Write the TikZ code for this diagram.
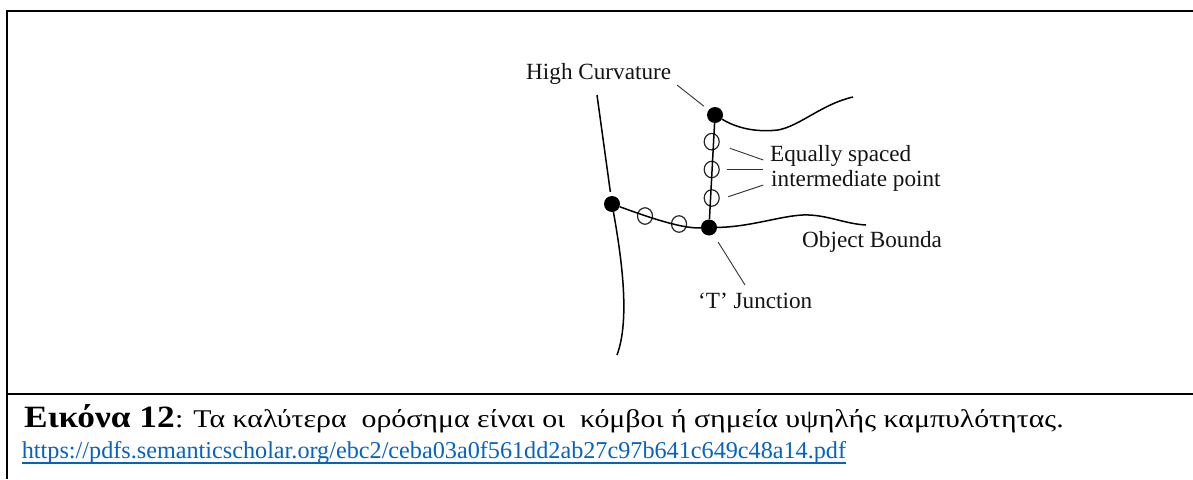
\documentclass[tikz,border=0pt]{standalone}
\usepackage{fontspec}
\setmainfont{Liberation Serif}
\newfontfamily\numfont[FakeStretch=1.14]{Liberation Serif}
\newfontfamily\captfont[FakeStretch=1.17]{Liberation Serif}
\usetikzlibrary{calc,shapes.geometric}
\definecolor{lnkblue}{HTML}{0563C1}
\definecolor{ldgrey}{HTML}{333333}
\tikzset{
  frm/.style   = {line width=2.2pt, draw=black},
  bnd/.style   = {line width=1.5pt, draw=black},
  lead/.style  = {line width=0.9pt, draw=ldgrey},
  blob/.style  = {circle, fill=black, minimum size=16pt, inner sep=0pt},
  ring/.style  = {ellipse, draw=black!85, line width=1.2pt, minimum width=15pt,
                  minimum height=16.5pt, inner sep=0pt},
  lbl/.style   = {font=\fontsize{23.2}{25}\selectfont, inner sep=0pt,
                  anchor=base west, text=black!92},
  captn/.style = {inner sep=0pt, anchor=base west},
}

\begin{document}
\begin{tikzpicture}[x=1pt,y=-1pt]
  \useasboundingbox (0,0) rectangle (1193,479);
  \draw[frm] (6.8,479) -- (6.8,11.2) -- (1193,11.2);
  \draw[frm] (6.8,394) -- (1193,394);

  % landmark points
  \node[blob] (hc) at (715,115) {};
  \node[blob] (lc) at (612,204) {};
  \node[blob] (tj) at (709,227.5) {};
  \node[ring] (v1) at (711.7,141.7) {};
  \node[ring] (v2) at (711.7,169.5) {};
  \node[ring] (v3) at (711.7,198) {};
  \node[ring] (h1) at (645,216) {};
  \node[ring] (h2) at (679,224) {};

  % boundary ends
  \coordinate (tr) at (853,97);
  \coordinate (br) at (866,225);
  \coordinate (tl) at (597,95);
  \coordinate (bl) at (617,355);

  \draw[bnd] (hc) -- (tj);
  \draw[bnd] (lc) .. controls (640,214) and (680,229) .. (tj);
  \draw[bnd] (hc) .. controls (740,130) and (760,132) .. (778,130)
             .. controls (800,126) and (822,104) .. (tr);
  \draw[bnd] (tj) .. controls (750,227) and (780,216) .. (803,215)
             .. controls (825,214) and (845,224) .. (br);
  \draw[bnd] (lc) .. controls (622,260) and (630,320) .. (bl);
  \draw[bnd, shorten >=4pt] (tl) -- (lc);

  % labels
  \node[lbl] (hclbl) at (526,79) {High Curvature};
  \node[lbl] (eqlbl) at (770,161.7) {Equally spaced};
  \node[lbl] (iplbl) at (771,186.7) {intermediate point};
  \node[lbl] (oblbl) at (802,247) {Object Bounda};
  \node[lbl] (tjlbl) at (698,308) {‘T’ Junction};

  % leaders
  \coordinate (hcl) at (677,85);
  \coordinate (e1a) at (730,148.3);
  \coordinate (e1b) at (763.3,160);
  \coordinate (e2a) at (726.7,169.3);
  \coordinate (e2b) at (763.3,169.3);
  \coordinate (e3a) at (728.3,196.7);
  \coordinate (e3b) at (763.3,185);
  \coordinate (tjl) at (745,285);
  \draw[lead, shorten >=6pt] (hcl) -- (hc);
  \draw[lead] (e1a) -- (e1b);
  \draw[lead] (e2a) -- (e2b);
  \draw[lead] (e3a) -- (e3b);
  \draw[lead, shorten <=9pt] (tj) -- (tjl);

  % caption
  \node[captn, font=\numfont\fontsize{31}{31}\selectfont\bfseries] (fignum) at (24,427.3) {Εικόνα 12};
  \node[captn, font=\captfont\fontsize{25.5}{26}\selectfont] (captxt) at (fignum.base east)
       {: Τα καλύτερα\ \ ορόσημα είναι οι\ \ κόμβοι ή σημεία υψηλής καμπυλότητας.};
  \node[captn, font=\fontsize{24.2}{25}\selectfont, text=lnkblue] (url) at (21.7,458)
       {https://pdfs.semanticscholar.org/ebc2/ceba03a0f561dd2ab27c97b641c649c48a14.pdf};
  \draw[lnkblue, line width=1.4pt] ($(url.base west)+(0,5)$) -- ($(url.base east)+(0,5)$);
\end{tikzpicture}
\end{document}
